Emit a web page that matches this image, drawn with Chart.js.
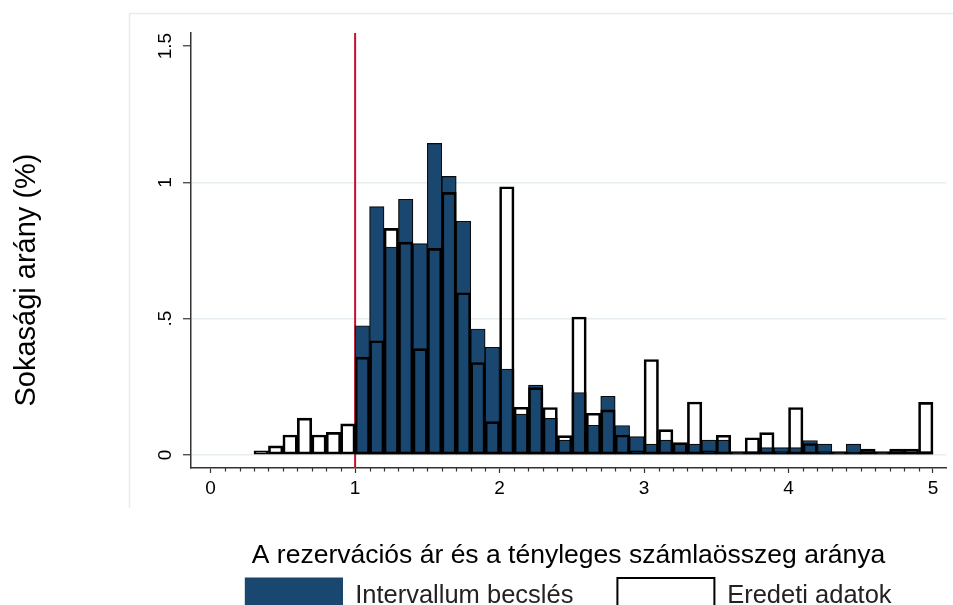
<!DOCTYPE html>
<html lang="hu">
<head>
<meta charset="utf-8">
<title>Sokasági arány</title>
<script src="https://cdn.jsdelivr.net/npm/chart.js@4.4.0/dist/chart.umd.min.js"></script>
<style>
  html, body { margin: 0; padding: 0; background: #fff; }
</style>
</head>
<body>
<canvas id="histChart" width="953" height="605"></canvas>
<script>
// lower edge of every 0.1 wide bin
const binStarts = [0.3, 0.4, 0.5, 0.6, 0.7, 0.8, 0.9,
    1.0, 1.1, 1.2, 1.3, 1.4, 1.5, 1.6, 1.7, 1.8, 1.9,
    2.0, 2.1, 2.2, 2.3, 2.4, 2.5, 2.6, 2.7, 2.8, 2.9,
    3.0, 3.1, 3.2, 3.3, 3.4, 3.5, 3.6, 3.7, 3.8, 3.9,
    4.0, 4.1, 4.2, 4.3, 4.4, 4.5, 4.6, 4.7, 4.8, 4.9];
const binWidth = 0.1;

// Intervallum becslés (%)
const intervalEstimate = [null, null, null, null, null, null, null,
    0.474, 0.911, 0.763, 0.938, 0.775, 1.143, 1.022, 0.857, 0.462, 0.395,
    0.315, 0.150, 0.256, 0.134, 0.054, 0.229, 0.109, 0.215, 0.108, 0.067,
    0.040, 0.054, 0.040, 0.040, 0.054, 0.054, 0.012, 0.012, 0.027, 0.027,
    0.027, 0.053, 0.040, 0.012, 0.040, 0.012, 0.012, 0.012, 0.008, 0.012];

// Eredeti adatok (%)
const originalData = [0.015, 0.033, 0.073, 0.135, 0.073, 0.083, 0.114,
    0.359, 0.419, 0.831, 0.781, 0.390, 0.758, 0.963, 0.595, 0.339, 0.122,
    0.984, 0.175, 0.247, 0.174, 0.071, 0.506, 0.153, 0.165, 0.073, 0.015,
    0.350, 0.093, 0.045, 0.194, 0.015, 0.072, 0.010, 0.063, 0.082, 0.012,
    0.174, 0.042, 0.012, 0.010, 0.010, 0.021, 0.010, 0.021, 0.021, 0.193];

const seriesNames = ['Intervallum becslés', 'Eredeti adatok'];
const xTickValues = [0, 1, 2, 3, 4, 5];
const yTickValues = [0, 0.5, 1, 1.5];
const yTickLabels = ['0', '.5', '1', '1.5'];
const cutoff = 1;
const xRange = [-0.136, 5.09];
const yRange = [-0.048, 1.548];

const xTitle = 'A rezervációs ár és a tényleges számlaösszeg aránya';
const yTitle = 'Sokasági arány (%)';

const navy = '#1a476f';
const axisColor = '#333';
const gridColor = '#e6edf0';

Chart.defaults.font.family = "'Liberation Sans', Arial, sans-serif";
Chart.defaults.color = '#000';

const toBars = values => binStarts.map((b, i) => ({ x: b + binWidth / 2, y: values[i] }));

// frame, minor x ticks and the y title
const extras = {
    id: 'extras',
    beforeDraw(chart) {
        const ctx = chart.ctx;
        ctx.save();
        ctx.strokeStyle = '#e6ecef';
        ctx.lineWidth = 1.5;
        ctx.beginPath();
        ctx.moveTo(129.5, 508);
        ctx.lineTo(129.5, 13.5);
        ctx.lineTo(chart.width, 13.5);
        ctx.stroke();
        ctx.restore();
    },
    afterDraw(chart) {
        const ctx = chart.ctx;
        const x = chart.scales.x;
        ctx.save();
        ctx.strokeStyle = axisColor;
        ctx.lineWidth = 1.2;
        ctx.beginPath();
        for (let k = 1; k < 50; k++) {
            if (k % 10 === 0) continue;
            const px = Math.round(x.getPixelForValue(k * binWidth)) + 0.5;
            ctx.moveTo(px, x.top);
            ctx.lineTo(px, x.top + 3.5);
        }
        ctx.stroke();

        ctx.translate(34.5, 280);
        ctx.rotate(-Math.PI / 2);
        ctx.fillStyle = '#000';
        ctx.font = "29px 'Liberation Sans', Arial, sans-serif";
        ctx.textAlign = 'center';
        ctx.textBaseline = 'alphabetic';
        ctx.fillText(yTitle, 0, 0);
        ctx.restore();
    }
};

new Chart(document.getElementById('histChart'), {
    type: 'bar',
    data: {
        datasets: [
            {
                label: seriesNames[0],
                data: toBars(intervalEstimate),
                backgroundColor: navy,
                borderColor: '#0b0b0b',
                borderWidth: 1.2,
                borderSkipped: false,
                grouped: false,
                barPercentage: 1,
                categoryPercentage: 1,
                order: 2
            },
            {
                label: seriesNames[1],
                data: toBars(originalData),
                backgroundColor: 'rgba(255,255,255,0)',
                borderColor: '#000',
                borderWidth: 2,
                borderSkipped: false,
                grouped: false,
                barPercentage: 1,
                categoryPercentage: 1,
                order: 1
            },
            {
                type: 'line',
                label: 'cutoff',
                data: [{ x: cutoff, y: yRange[0] }, { x: cutoff, y: yRange[1] }],
                borderColor: '#c8102e',
                borderWidth: 2,
                pointRadius: 0,
                order: 3
            }
        ]
    },
    options: {
        responsive: false,
        animation: false,
        layout: { padding: { top: 33, right: 7, bottom: 0, left: 0 } },
        scales: {
            x: {
                type: 'linear',
                min: xRange[0],
                max: xRange[1],
                offset: false,
                afterFit: scale => { scale.height = 66; },
                afterBuildTicks: scale => { scale.ticks = xTickValues.map(v => ({ value: v })); },
                ticks: {
                    font: { size: 19 },
                    color: '#000',
                    padding: 4,
                    maxRotation: 0,
                    autoSkip: false,
                    callback: v => String(v)
                },
                grid: {
                    offset: false,
                    drawOnChartArea: false,
                    tickLength: 5,
                    tickColor: axisColor,
                    tickWidth: 1.2
                },
                border: { color: axisColor, width: 1.5 },
                title: {
                    display: true,
                    text: xTitle,
                    font: { size: 26.5 },
                    color: '#000',
                    // title sits below the scale box, inside the legend's top gap
                    padding: { top: 0, bottom: -38 }
                }
            },
            y: {
                min: yRange[0],
                max: yRange[1],
                afterFit: scale => { scale.width = 191; },
                afterBuildTicks: scale => { scale.ticks = yTickValues.map(v => ({ value: v })); },
                ticks: {
                    font: { size: 19 },
                    color: '#000',
                    minRotation: 90,
                    maxRotation: 90,
                    crossAlign: 'center',
                    padding: 4,
                    autoSkip: false,
                    callback: (v, i) => yTickLabels[i]
                },
                grid: {
                    color: c => (c.tick && c.tick.value === 1.5 ? 'rgba(0,0,0,0)' : gridColor),
                    lineWidth: 1.5,
                    tickLength: 8,
                    tickColor: axisColor,
                    tickWidth: 1.2
                },
                border: { color: axisColor, width: 1.5 }
            }
        },
        plugins: {
            tooltip: { enabled: false },
            legend: {
                position: 'bottom',
                fullSize: false,
                maxHeight: 71,
                labels: {
                    boxWidth: 97,
                    boxHeight: 36,
                    padding: 44,
                    color: '#222',
                    font: { size: 25.5 },
                    generateLabels(chart) {
                        const items = Chart.defaults.plugins.legend.labels.generateLabels(chart)
                            .filter(it => it.datasetIndex < 2)
                            .sort((a, b) => a.datasetIndex - b.datasetIndex);
                        items[0].strokeStyle = navy;
                        return items;
                    }
                }
            }
        }
    },
    plugins: [extras]
});
</script>
</body>
</html>
